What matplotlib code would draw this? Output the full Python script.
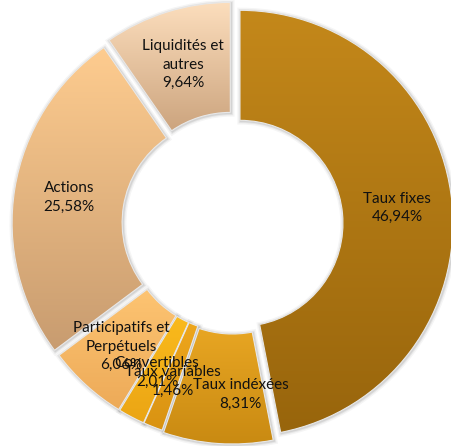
import numpy as np
import matplotlib
matplotlib.use("Agg")
import matplotlib.pyplot as plt
from matplotlib.patches import Wedge
from matplotlib.colors import LinearSegmentedColormap

labels = ["Taux fixes", "Taux indéxées", "Taux variables", "Convertibles",
          "Participatifs et\nPerpétuels", "Actions", "Liquidités et\nautres"]
values = [46.94, 8.31, 1.46, 2.01, 6.06, 25.58, 9.64]
pct_text = ["46,94%", "8,31%", "1,46%", "2,01%", "6,06%", "25,58%", "9,64%"]
top_colors = ["#C4881A", "#E8A623", "#EEA61C", "#FABA1C", "#FDC472", "#FECC8F", "#FCDEBD"]
bot_colors = ["#98650C", "#C98A12", "#D99312", "#EBA514", "#EDAA58", "#C89C70", "#CCA47E"]
explode = [7, 7, 5, 5, 5, 8, 9]
label_nudge = [(0, 0), (19, -6), (0, -6), (0, -4), (-2, -2), (0, 0), (0, 0)]

plt.rcParams['font.family'] = ['Lato', 'DejaVu Sans']

fig = plt.figure(figsize=(4.52, 4.46), dpi=100)
ax = fig.add_axes([0, 0, 1, 1])
ax.set_xlim(0, 452)
ax.set_ylim(0, 446)
ax.axis('off')

cx0, cy0 = 233, 222
R, r_in = 213, 103

start = 90.0
total = sum(values)
for i, v in enumerate(values):
    t1 = start - 360 * v / total
    t2 = start
    mid = np.radians((t1 + t2) / 2)
    cx = cx0 + explode[i] * np.cos(mid)
    cy = cy0 + explode[i] * np.sin(mid)

    # soft shadow
    for lw, a in [(5, 0.04), (3, 0.06), (1.5, 0.08)]:
        ax.add_patch(Wedge((cx + 0.8, cy - 0.8), R, t1, t2, width=R - r_in,
                           facecolor='none', edgecolor='black', alpha=a,
                           linewidth=lw, zorder=0))

    w = Wedge((cx, cy), R, t1, t2, width=R - r_in, facecolor='none',
              edgecolor='none')
    ax.add_patch(w)
    th = np.radians(np.linspace(t1, t2, 100))
    ys = np.concatenate([cy + R * np.sin(th), cy + r_in * np.sin(th)])
    xs = np.concatenate([cx + R * np.cos(th), cx + r_in * np.cos(th)])
    cmap = LinearSegmentedColormap.from_list("g%d" % i, [bot_colors[i], top_colors[i]])
    grad = np.linspace(0, 1, 256).reshape(-1, 1)
    im = ax.imshow(grad, extent=(xs.min(), xs.max(), ys.min(), ys.max()),
                   origin='lower', cmap=cmap, aspect='auto', zorder=1)
    im.set_clip_path(w)
    ax.add_patch(Wedge((cx, cy), R, t1, t2, width=R - r_in, facecolor='none',
                       edgecolor='#E8E8E8', linewidth=0.8, zorder=2))

    rm = (R + r_in) / 2
    lx = cx + rm * np.cos(mid) + label_nudge[i][0]
    ly = cy + rm * np.sin(mid) + label_nudge[i][1]
    ax.text(lx, ly, labels[i] + "\n" + pct_text[i], ha='center', va='center',
            fontsize=11, color='#111111', linespacing=1.4, zorder=3)
    start = t1

fig.savefig("out.png", dpi=100)
